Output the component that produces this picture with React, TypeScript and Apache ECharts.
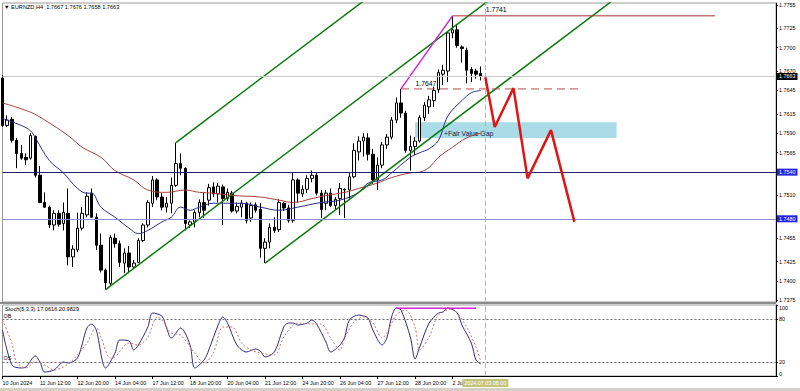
import React, { useEffect, useRef } from 'react';
import * as echarts from 'echarts';

const FONT = 'Liberation Sans, Arial, sans-serif';

// ---- time axis -------------------------------------------------------
const tradingDays = [
  '10 Jun', '11 Jun', '12 Jun', '13 Jun', '14 Jun',
  '17 Jun', '18 Jun', '19 Jun', '20 Jun', '21 Jun',
  '24 Jun', '25 Jun', '26 Jun', '27 Jun', '28 Jun',
  '1 Jul', '2 Jul', '3 Jul', '4 Jul', '5 Jul',
  '8 Jul', '9 Jul', '10 Jul', '11 Jul', '12 Jul',
  '15 Jul', '16 Jul', '17 Jul',
];
const barHours = ['00:00', '04:00', '08:00', '12:00', '16:00', '20:00'];
const slotCount = 166;
const categories: string[] = tradingDays
  .flatMap((d) => barHours.map((h) => `${d} ${h}`))
  .slice(1, 1 + slotCount);
const firstLabel = '10 Jun 2024';
const labelStep = 8;
const lastLabelIndex = 96;
const cursorIndex = 103;
const cursorLabel = '2024.07.03 08:00';

// ---- candles: open, high, low, close --------------------------------
const candles: [number, number, number, number][] = [
  [1.7661, 1.7665, 1.7598, 1.7600],
  [1.7600, 1.7613, 1.7598, 1.7607],
  [1.7608, 1.7611, 1.7578, 1.7581],
  [1.7581, 1.7584, 1.7545, 1.7564],
  [1.7564, 1.7575, 1.7556, 1.7558],
  [1.7559, 1.7564, 1.7549, 1.7556],
  [1.7558, 1.7590, 1.7556, 1.7587],
  [1.7586, 1.7587, 1.7533, 1.7536],
  [1.7536, 1.7548, 1.7500, 1.7501],
  [1.7501, 1.7514, 1.7494, 1.7495],
  [1.7495, 1.7497, 1.7468, 1.7472],
  [1.7472, 1.7491, 1.7465, 1.7487],
  [1.7487, 1.7491, 1.7470, 1.7473],
  [1.7474, 1.7501, 1.7465, 1.7488],
  [1.7487, 1.7519, 1.7420, 1.7431],
  [1.7431, 1.7446, 1.7418, 1.7441],
  [1.7440, 1.7488, 1.7437, 1.7468],
  [1.7468, 1.7495, 1.7465, 1.7487],
  [1.7485, 1.7514, 1.7482, 1.7509],
  [1.7513, 1.7519, 1.7481, 1.7482],
  [1.7482, 1.7487, 1.7440, 1.7446],
  [1.7446, 1.7461, 1.7411, 1.7414],
  [1.7414, 1.7416, 1.7389, 1.7398],
  [1.7397, 1.7459, 1.7395, 1.7456],
  [1.7455, 1.7461, 1.7443, 1.7448],
  [1.7448, 1.7452, 1.7418, 1.7424],
  [1.7423, 1.7442, 1.7410, 1.7436],
  [1.7436, 1.7445, 1.7410, 1.7418],
  [1.7418, 1.7427, 1.7416, 1.7423],
  [1.7424, 1.7455, 1.7423, 1.7452],
  [1.7452, 1.7474, 1.7450, 1.7472],
  [1.7472, 1.7504, 1.7469, 1.7501],
  [1.7500, 1.7535, 1.7495, 1.7530],
  [1.7530, 1.7532, 1.7504, 1.7508],
  [1.7508, 1.7513, 1.7491, 1.7495],
  [1.7495, 1.7508, 1.7488, 1.7500],
  [1.7500, 1.7533, 1.7487, 1.7523],
  [1.7523, 1.7578, 1.7521, 1.7551],
  [1.7551, 1.7564, 1.7536, 1.7545],
  [1.7545, 1.7546, 1.7465, 1.7474],
  [1.7472, 1.7478, 1.7468, 1.7476],
  [1.7476, 1.7491, 1.7469, 1.7488],
  [1.7488, 1.7505, 1.7482, 1.7501],
  [1.7501, 1.7514, 1.7481, 1.7491],
  [1.7504, 1.7525, 1.7497, 1.7520],
  [1.7521, 1.7527, 1.7508, 1.7512],
  [1.7512, 1.7526, 1.7501, 1.7522],
  [1.7521, 1.7524, 1.7472, 1.7506],
  [1.7506, 1.7519, 1.7503, 1.7514],
  [1.7513, 1.7516, 1.7488, 1.7490],
  [1.7490, 1.7501, 1.7487, 1.7496],
  [1.7495, 1.7504, 1.7482, 1.7500],
  [1.7500, 1.7502, 1.7474, 1.7478],
  [1.7481, 1.7501, 1.7476, 1.7497],
  [1.7498, 1.7501, 1.7488, 1.7491],
  [1.7492, 1.7500, 1.7430, 1.7442],
  [1.7442, 1.7455, 1.7423, 1.7450],
  [1.7450, 1.7474, 1.7442, 1.7469],
  [1.7469, 1.7482, 1.7462, 1.7465],
  [1.7466, 1.7505, 1.7463, 1.7501],
  [1.7500, 1.7502, 1.7490, 1.7494],
  [1.7494, 1.7498, 1.7475, 1.7478],
  [1.7478, 1.7539, 1.7475, 1.7530],
  [1.7530, 1.7532, 1.7501, 1.7513],
  [1.7512, 1.7523, 1.7508, 1.7518],
  [1.7518, 1.7536, 1.7513, 1.7532],
  [1.7532, 1.7542, 1.7527, 1.7536],
  [1.7536, 1.7539, 1.7510, 1.7513],
  [1.7513, 1.7517, 1.7481, 1.7492],
  [1.7500, 1.7517, 1.7491, 1.7513],
  [1.7513, 1.7519, 1.7495, 1.7497],
  [1.7497, 1.7508, 1.7492, 1.7505],
  [1.7506, 1.7526, 1.7485, 1.7519],
  [1.7518, 1.7519, 1.7481, 1.7517],
  [1.7517, 1.7540, 1.7504, 1.7534],
  [1.7534, 1.7577, 1.7532, 1.7568],
  [1.7566, 1.7586, 1.7555, 1.7580],
  [1.7580, 1.7590, 1.7560, 1.7585],
  [1.7584, 1.7590, 1.7555, 1.7563],
  [1.7563, 1.7570, 1.7525, 1.7530],
  [1.7530, 1.7559, 1.7517, 1.7549],
  [1.7549, 1.7579, 1.7545, 1.7575],
  [1.7575, 1.7589, 1.7570, 1.7585],
  [1.7585, 1.7611, 1.7582, 1.7607],
  [1.7607, 1.7636, 1.7603, 1.7629],
  [1.7629, 1.7647, 1.7610, 1.7616],
  [1.7616, 1.7619, 1.7565, 1.7568],
  [1.7568, 1.7587, 1.7542, 1.7573],
  [1.7573, 1.7585, 1.7562, 1.7580],
  [1.7580, 1.7613, 1.7578, 1.7610],
  [1.7610, 1.7630, 1.7606, 1.7626],
  [1.7624, 1.7638, 1.7615, 1.7633],
  [1.7632, 1.7650, 1.7624, 1.7645],
  [1.7646, 1.7672, 1.7642, 1.7668],
  [1.7666, 1.7678, 1.7652, 1.7671],
  [1.7670, 1.7720, 1.7656, 1.7719],
  [1.7719, 1.7741, 1.7712, 1.7723],
  [1.7723, 1.7730, 1.7700, 1.7703],
  [1.7701, 1.7703, 1.7681, 1.7699],
  [1.7697, 1.7700, 1.7654, 1.7671],
  [1.7672, 1.7675, 1.7656, 1.7667],
  [1.7670, 1.7673, 1.7660, 1.7666],
  [1.7667, 1.7676, 1.7658, 1.7663],
];

// ---- moving averages: [bar, price] ------------------------------------
const maFast: [number, number][] = [
  [0, 1.7609], [4, 1.7600], [6, 1.7593], [7, 1.7584], [10, 1.7555], [13, 1.7539],
  [16, 1.7519], [18, 1.7513], [19, 1.7513], [21, 1.7495], [24, 1.7482], [27, 1.7468],
  [29, 1.7461], [31, 1.7465], [34, 1.7476], [36, 1.7482], [38, 1.7495], [40, 1.7491],
  [42, 1.7495], [45, 1.7500], [48, 1.7500], [51, 1.7500], [55, 1.7495], [59, 1.7491],
  [63, 1.7495], [68, 1.7501], [72, 1.7504], [76, 1.7514], [78, 1.7526], [81, 1.7530],
  [83, 1.7539], [87, 1.7559], [89, 1.7565], [91, 1.7570], [93, 1.7581], [95, 1.7612],
  [98, 1.7632], [100, 1.7642], [102, 1.7645],
];
const maSlow: [number, number][] = [
  [0, 1.7629], [6, 1.7617], [9, 1.7607], [14, 1.7587], [17, 1.7572], [21, 1.7559],
  [24, 1.7542], [28, 1.7530], [31, 1.7517], [35, 1.7514], [39, 1.7517], [42, 1.7514],
  [45, 1.7513], [49, 1.7510], [55, 1.7508], [59, 1.7504], [62, 1.7501], [66, 1.7506],
  [69, 1.7510], [73, 1.7514], [76, 1.7519], [80, 1.7526], [83, 1.7533], [87, 1.7539],
  [89, 1.7540], [91, 1.7546], [93, 1.7559], [96, 1.7572], [99, 1.7584], [102, 1.7590],
];

// ---- drawn objects ---------------------------------------------------
const channelLow: [number, number][] = [[22, 1.7389], [104, 1.7762]];
const channelHigh: [number, number][] = [[37, 1.7578], [77, 1.7760]];
const channelInner: [number, number][] = [[56, 1.7423], [130, 1.7760]];
const swingLeg: [number, number][] = [[85, 1.7647], [96, 1.7741]];
const highLevel: [number, number][] = [[96, 1.7741], [152, 1.7741]];
const lowLevel: [number, number][] = [[85, 1.7647], [123, 1.7647]];
const projection: [number, number][] = [
  [103, 1.7662], [105, 1.7598], [109, 1.7648], [112, 1.7532], [117, 1.7594], [122, 1.7476],
];
const fvgBars = [88, 131];
const fvgPrices = [1.7604, 1.7584];
const supportLevels = [1.7540, 1.7480];
const bidPrice = 1.7663;

const priceTicks = [
  1.7375, 1.74, 1.7425, 1.7455, 1.748, 1.751, 1.754, 1.7565, 1.759, 1.7615,
  1.7645, 1.767, 1.77, 1.7725, 1.7755,
];
const priceMin = 1.7373;
const priceMax = 1.77575;

// ---- stochastic (5,3,3): [bar, value] ---------------------------------
const stochK: [number, number][] = [
  [0, 64.8], [2, 15.5], [4, 11.3], [5, 12.7], [7, 28.2], [8, 19.7], [9, 5.6], [11, 8.5],
  [13, 19.7], [14, 18.3], [16, 25.4], [18, 67.6], [19, 73.2], [20, 64.8], [22, 11.3],
  [24, 32.4], [25, 50.7], [27, 49.3], [28, 36.6], [29, 43.7], [31, 69.0], [32, 88.7],
  [34, 84.5], [35, 67.6], [36, 53.5], [38, 67.6], [40, 43.7], [41, 11.3], [43, 22.5],
  [44, 36.6], [46, 71.8], [47, 83.1], [48, 74.6], [50, 43.7], [52, 33.8], [54, 38.0],
  [55, 35.2], [56, 26.8], [58, 33.8], [60, 69.0], [61, 74.6], [62, 74.6], [63, 71.8],
  [65, 74.6], [66, 78.9], [67, 73.2], [69, 47.9], [70, 33.8], [72, 43.7], [73, 54.9],
  [74, 78.9], [76, 85.9], [77, 84.5], [78, 81.7], [79, 64.8], [81, 43.7], [82, 53.5],
  [83, 83.1], [84, 95.8], [85, 93.0], [87, 54.9], [88, 23.9], [89, 40.8], [91, 74.6],
  [93, 88.7], [94, 90.1], [95, 95.8], [97, 88.7], [98, 71.8], [100, 46.5], [101, 22.5],
  [102, 17.06],
];
const stochD: [number, number][] = [
  [0, 78.9], [2, 46.5], [3, 19.7], [5, 11.3], [7, 19.7], [9, 15.5], [11, 8.5], [13, 12.7],
  [15, 22.5], [18, 46.5], [20, 69.0], [21, 54.9], [23, 25.4], [24, 26.8], [27, 46.5],
  [29, 43.7], [31, 54.9], [33, 83.1], [34, 78.9], [36, 60.6], [38, 57.7], [41, 32.4],
  [43, 18.3], [45, 32.4], [47, 69.0], [49, 69.0], [51, 46.5], [53, 36.6], [55, 32.4],
  [58, 29.6], [60, 54.9], [62, 71.8], [63, 74.6], [66, 73.2], [68, 73.2], [70, 53.5],
  [72, 36.6], [73, 53.5], [75, 76.1], [77, 83.1], [79, 74.6], [81, 53.5], [82, 60.6],
  [84, 85.9], [86, 93.0], [88, 69.0], [89, 36.6], [91, 54.9], [93, 85.9], [96, 94.4],
  [97, 88.7], [99, 69.0], [101, 40.8], [102, 20.98],
];
const stochTop: [number, number][] = [[84, 95.5], [101, 95.5]];
const stochTicks = [0, 20, 80, 100];
const stochLevels = [80, 20];
const stochLevelNames = ['OB', 'OS'];

const chartTitle = 'EURNZD,H4  1.7667 1.7676 1.7658 1.7663';
const stochTitle = 'Stoch(5,3,3) 17.0616 20.9829';

const AXIS_FS = 5.4;

function lineSeries(data: [number, number][], color: string, width: number, extra: any = {}) {
  return {
    type: 'line',
    xAxisIndex: extra.xAxisIndex ?? 0,
    yAxisIndex: extra.yAxisIndex ?? 0,
    data,
    symbol: 'none',
    silent: true,
    clip: true,
    smooth: extra.smooth ?? false,
    lineStyle: { color, width, type: extra.type ?? 'solid' },
    z: extra.z ?? 3,
  };
}

export default function App() {
  const ref = useRef<HTMLDivElement>(null);

  useEffect(() => {
    if (!ref.current) return;
    const chart = echarts.init(ref.current, undefined, { renderer: 'svg' });
    const labelInterval = (i: number) => i <= lastLabelIndex && i % labelStep === 0;

    const option: any = {
      animation: false,
      backgroundColor: '#ffffff',
      textStyle: { fontFamily: FONT },
      title: [
        {
          text: '▼ ' + chartTitle,
          left: 4, top: 4, padding: 0,
          textStyle: { fontSize: 5.6, fontWeight: 'normal', color: '#000', fontFamily: FONT },
        },
        {
          text: stochTitle,
          left: 5, top: 306, padding: 0,
          textStyle: { fontSize: 5.6, fontWeight: 'normal', color: '#000', fontFamily: FONT },
        },
      ],
      grid: [
        { left: 2.5, right: 24, top: 3, height: 299, show: true, borderColor: '#9a9a9a', borderWidth: 1, containLabel: false, outerBoundsMode: 'none' },
        { left: 2.5, right: 24, top: 305, height: 71, show: true, borderColor: '#9a9a9a', borderWidth: 1, containLabel: false, outerBoundsMode: 'none' },
      ],
      graphic: [
        { type: 'rect', shape: { x: 0, y: 302, width: 776, height: 2 }, style: { fill: '#8c8c8c' }, silent: true },
        { type: 'rect', shape: { x: 0, y: 388, width: 800, height: 3 }, style: { fill: '#d4d0c8' }, silent: true },
      ],
      xAxis: [
        {
          type: 'category', gridIndex: 0, data: categories, boundaryGap: false,
          axisLine: { show: false }, axisTick: { show: false }, axisLabel: { show: false }, splitLine: { show: false },
        },
        {
          type: 'category', gridIndex: 1, data: categories, boundaryGap: false, position: 'bottom',
          axisLine: { show: true, lineStyle: { color: '#000', width: 1 } },
          axisTick: { show: true, interval: labelInterval, length: 3, lineStyle: { color: '#000' } },
          axisLabel: {
            show: true, interval: labelInterval, align: 'left', margin: 4,
            fontSize: AXIS_FS, color: '#000', fontFamily: FONT,
            formatter: (v: string, i: number) => (i === 0 ? firstLabel : v),
          },
          splitLine: { show: false },
        },
        {
          type: 'category', gridIndex: 1, data: categories, boundaryGap: false, position: 'bottom',
          axisLine: { show: false }, axisTick: { show: false }, splitLine: { show: false },
          axisLabel: {
            show: true, interval: (i: number) => i === cursorIndex, align: 'center', margin: 3,
            fontSize: AXIS_FS, color: '#ffffff', fontFamily: FONT,
            backgroundColor: '#c4c47e', padding: [1.5, 2],
            formatter: () => cursorLabel,
          },
        },
      ],
      yAxis: [
        {
          type: 'value', gridIndex: 0, position: 'right', min: priceMin, max: priceMax,
          splitLine: { show: false },
          axisLine: { show: true, lineStyle: { color: '#000' } },
          axisTick: { show: true, length: 2, customValues: priceTicks, lineStyle: { color: '#000' } },
          axisLabel: {
            show: true, customValues: priceTicks, margin: 3, fontSize: AXIS_FS, color: '#000', fontFamily: FONT,
            formatter: (v: number) => v.toFixed(4),
          },
        },
        {
          type: 'value', gridIndex: 1, position: 'right', min: 0, max: 100,
          splitLine: { show: false },
          axisLine: { show: true, lineStyle: { color: '#000' } },
          axisTick: { show: true, length: 2, customValues: stochTicks, lineStyle: { color: '#000' } },
          axisLabel: {
            show: true, customValues: stochTicks, margin: 3, fontSize: AXIS_FS, color: '#000', fontFamily: FONT,
            verticalAlignMaxLabel: 'top', verticalAlignMinLabel: 'bottom',
          },
        },
      ],
      series: [
        {
          type: 'candlestick',
          xAxisIndex: 0, yAxisIndex: 0,
          data: candles.map(([o, h, l, c]) => [o, c, l, h]),
          barWidth: 3,
          clip: true,
          silent: true,
          z: 2,
          itemStyle: { color: '#ffffff', color0: '#000000', borderColor: '#000000', borderColor0: '#000000', borderWidth: 1 },
          markArea: {
            silent: true,
            itemStyle: { color: '#a9dce6' },
            label: {
              show: true, position: 'insideBottomLeft', distance: 1, offset: [28, 0],
              formatter: '+Fair Value Gap', fontSize: 6.8, color: '#1a1a3a', fontFamily: FONT,
            },
            data: [[{ coord: [fvgBars[0], fvgPrices[0]] }, { coord: [fvgBars[1], fvgPrices[1]] }]],
          },
          markLine: {
            silent: true, symbol: ['none', 'none'], animation: false, precision: 4,
            data: [
              {
                yAxis: bidPrice,
                lineStyle: { color: '#c8c8c8', width: 1, type: 'solid' },
                label: {
                  show: true, position: 'end', distance: 1, formatter: bidPrice.toFixed(4),
                  backgroundColor: '#000', color: '#fff', padding: [1, 2], fontSize: AXIS_FS, fontFamily: FONT,
                },
              },
              {
                yAxis: supportLevels[0],
                lineStyle: { color: '#1e1e78', width: 1, type: 'solid' },
                label: {
                  show: true, position: 'end', distance: 1, formatter: supportLevels[0].toFixed(4),
                  backgroundColor: '#2424e0', color: '#fff', padding: [1, 2], fontSize: AXIS_FS, fontFamily: FONT,
                },
              },
              {
                yAxis: supportLevels[1],
                lineStyle: { color: '#8e8ed4', width: 1.2, type: 'solid' },
                label: {
                  show: true, position: 'end', distance: 1, formatter: supportLevels[1].toFixed(4),
                  backgroundColor: '#2424e0', color: '#fff', padding: [1, 2], fontSize: AXIS_FS, fontFamily: FONT,
                },
              },
              {
                xAxis: categories[cursorIndex],
                lineStyle: { color: '#c8b48c', width: 1, type: [5, 3] },
                label: { show: false },
              },
            ],
          },
          markPoint: {
            silent: true, symbol: 'rect', symbolSize: 1, itemStyle: { color: 'rgba(0,0,0,0)' },
            data: [
              {
                coord: [103, highLevel[0][1]],
                label: { show: true, position: 'right', distance: 0, offset: [0, -6], formatter: highLevel[0][1].toFixed(4), fontSize: 6.8, color: '#000', fontFamily: FONT },
              },
              {
                coord: [88, lowLevel[0][1]],
                label: { show: true, position: 'right', distance: 0, offset: [0, -5], formatter: lowLevel[0][1].toFixed(4), fontSize: 6.8, color: '#000', fontFamily: FONT },
              },
            ],
          },
        },
        lineSeries(maSlow, '#a5403c', 1, { smooth: 0.4 }),
        lineSeries(maFast, '#2c2c8a', 1, { smooth: 0.4 }),
        lineSeries(channelLow, '#0c7a0c', 1.5),
        lineSeries(channelHigh, '#0c7a0c', 1.5),
        lineSeries(channelInner, '#0c7a0c', 1.5),
        lineSeries(highLevel, '#a83434', 1),
        lineSeries(lowLevel, '#b45050', 1, { type: [8, 5] }),
        lineSeries(swingLeg, '#d424d4', 1.5),
        lineSeries(projection, '#e01414', 2.5, { z: 5 }),
        {
          ...lineSeries(stochK, '#2e2e80', 1, { xAxisIndex: 1, yAxisIndex: 1, smooth: 0.3 }),
          markLine: {
            silent: true, symbol: ['none', 'none'], animation: false, precision: 4,
            data: [
              ...stochLevels.map((lv, k) => ({
                yAxis: lv,
                lineStyle: { color: '#6e6e6e', width: 1, type: [2, 2] },
                label: { show: true, position: 'insideStartTop', distance: 1, formatter: stochLevelNames[k], fontSize: AXIS_FS, color: '#000', fontFamily: FONT },
              })),
              {
                xAxis: categories[cursorIndex],
                lineStyle: { color: '#c8b48c', width: 1, type: [5, 3] },
                label: { show: false },
              },
            ],
          },
        },
        lineSeries(stochD, '#c47a6a', 1, { xAxisIndex: 1, yAxisIndex: 1, smooth: 0.3, type: [2, 2] }),
        lineSeries(stochTop, '#d424d4', 1.5, { xAxisIndex: 1, yAxisIndex: 1 }),
      ],
    };

    chart.setOption(option);
    return () => chart.dispose();
  }, []);

  return (
    <div
      ref={ref}
      style={{ position: 'fixed', left: 0, top: 0, width: 800, height: 391, background: '#fff' }}
    />
  );
}
